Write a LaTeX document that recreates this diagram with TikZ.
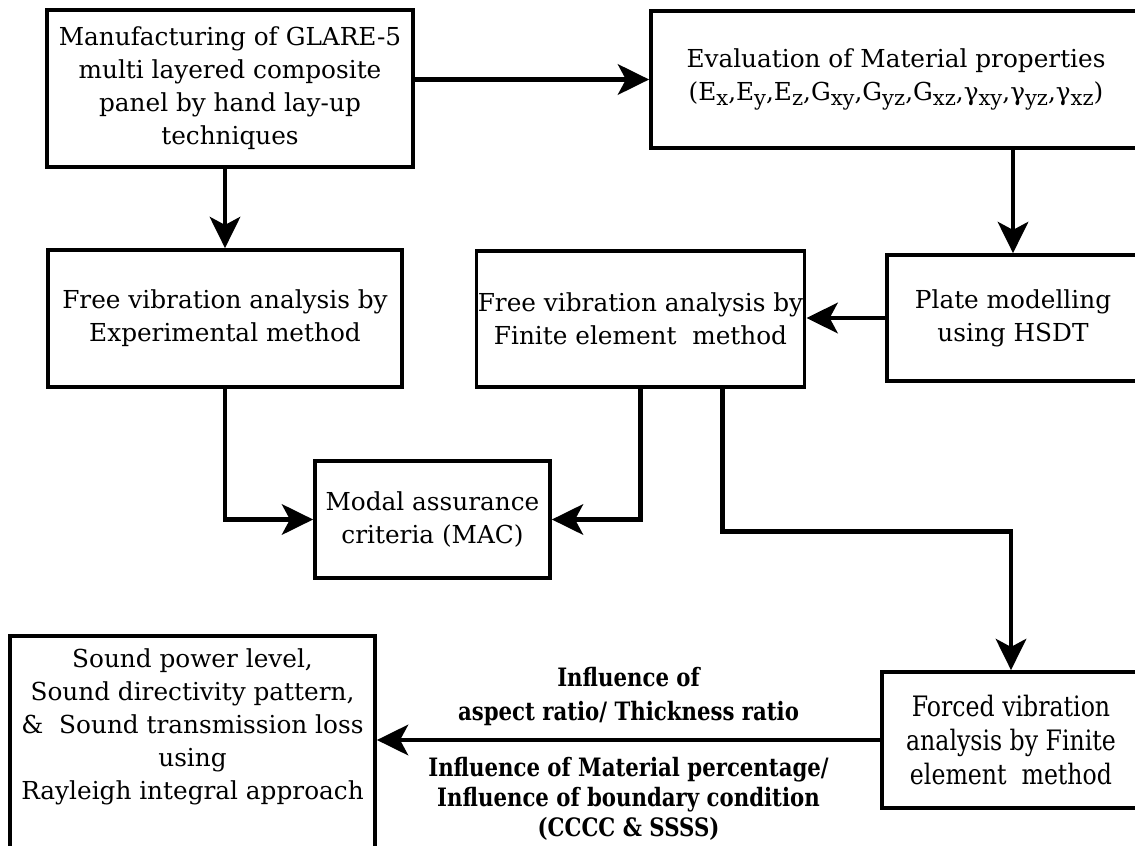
\documentclass[tikz,border=0pt]{standalone}
\usepackage{fontspec}
\setmainfont{DejaVu Serif}
\newfontfamily\narrowfont[FakeStretch=0.84]{DejaVu Serif}
\usetikzlibrary{arrows.meta, positioning}
\newcommand{\sbs}[1]{\raisebox{-0.45ex}{\fontsize{15}{15}\selectfont #1}}
\tikzstyle{block} = [rectangle, draw, line width=2.6pt, align=center, font=\fontsize{17.6}{23.5}\selectfont]
\tikzstyle{link} = [line width=3.4pt, -{Stealth[length=0.78cm, width=0.76cm, inset=0.2cm]}]
\tikzstyle{note} = [align=center, font=\narrowfont\bfseries\fontsize{18}{21.5}\selectfont]

\begin{document}
\begin{tikzpicture}[x=0.025cm, y=-0.025cm]
  \useasboundingbox (0,0) rectangle (1135,846);
  \clip (0,0) rectangle (1135,846);
  \node (mfg) [block, minimum width=9.15cm, minimum height=3.925cm] at (230,88.5) {Manufacturing of GLARE-5\\multi layered composite\\panel by hand lay-up\\techniques};
  \node (props) [block, minimum width=12.25cm, minimum height=3.425cm] at (896,79.5) {Evaluation of Material properties\\(E\sbs{x},E\sbs{y},E\sbs{z},G\sbs{xy},G\sbs{yz},G\sbs{xz},γ\sbs{xy},γ\sbs{yz},γ\sbs{xz})};
  \draw [link] (mfg.east |- props.west) -- (props.west);
  \node (expfree) [block, minimum width=8.85cm, minimum height=3.425cm] at (225,318.5) {Free vibration analysis by\\Experimental method};
  \draw [link] (mfg.south -| expfree) -- (expfree.north);
  \node (femfree) [block, minimum width=8.125cm, minimum height=3.4cm, inner xsep=1pt] at (640.5,319) {Free vibration analysis by\\Finite element\ \ method};
  \node (plate) [block, minimum width=6.3cm, minimum height=3.15cm] at (1013,318) {Plate modelling\\using HSDT};
  \draw [link] (props.south -| plate) -- (plate.north);
  \draw [link] (plate.west) -- (femfree.east |- plate.west);
  \node (mac) [block, minimum width=5.875cm, minimum height=2.925cm] at (432.5,519.5) {Modal assurance\\criteria (MAC)};
  \draw [link] (expfree.south) |- (mac.west);
  \draw [link] (femfree.south) |- (mac.east);
  \node (forced) [block, minimum width=6.45cm, minimum height=3.4cm, font=\narrowfont\fontsize{20}{24}\selectfont] at (1011,740) {Forced vibration\\analysis by Finite\\element\ \ method};
  \draw [link] ([xshift=2.04cm]femfree.south) -- ++(0,143) -| (forced.north);
  \node (sound) [block, anchor=north, minimum width=9.125cm, inner ysep=9pt] at (192.5,634) {Sound power level,\\Sound directivity pattern,\\\&\ \ Sound transmission loss\\using\\Rayleigh integral approach\rule[-3cm]{0pt}{0pt}};
  \draw [link] (forced.west) -- (sound.east |- forced.west)
    node (ratio) [note, midway, above=5pt, font=\narrowfont\bfseries\fontsize{18}{24}\selectfont] {Influence of\\aspect ratio/ Thickness ratio}
    node (bcs) [note, midway, below=7pt] {Influence of Material percentage/\\Influence of boundary condition\\(CCCC \& SSSS)};
\end{tikzpicture}
\end{document}
